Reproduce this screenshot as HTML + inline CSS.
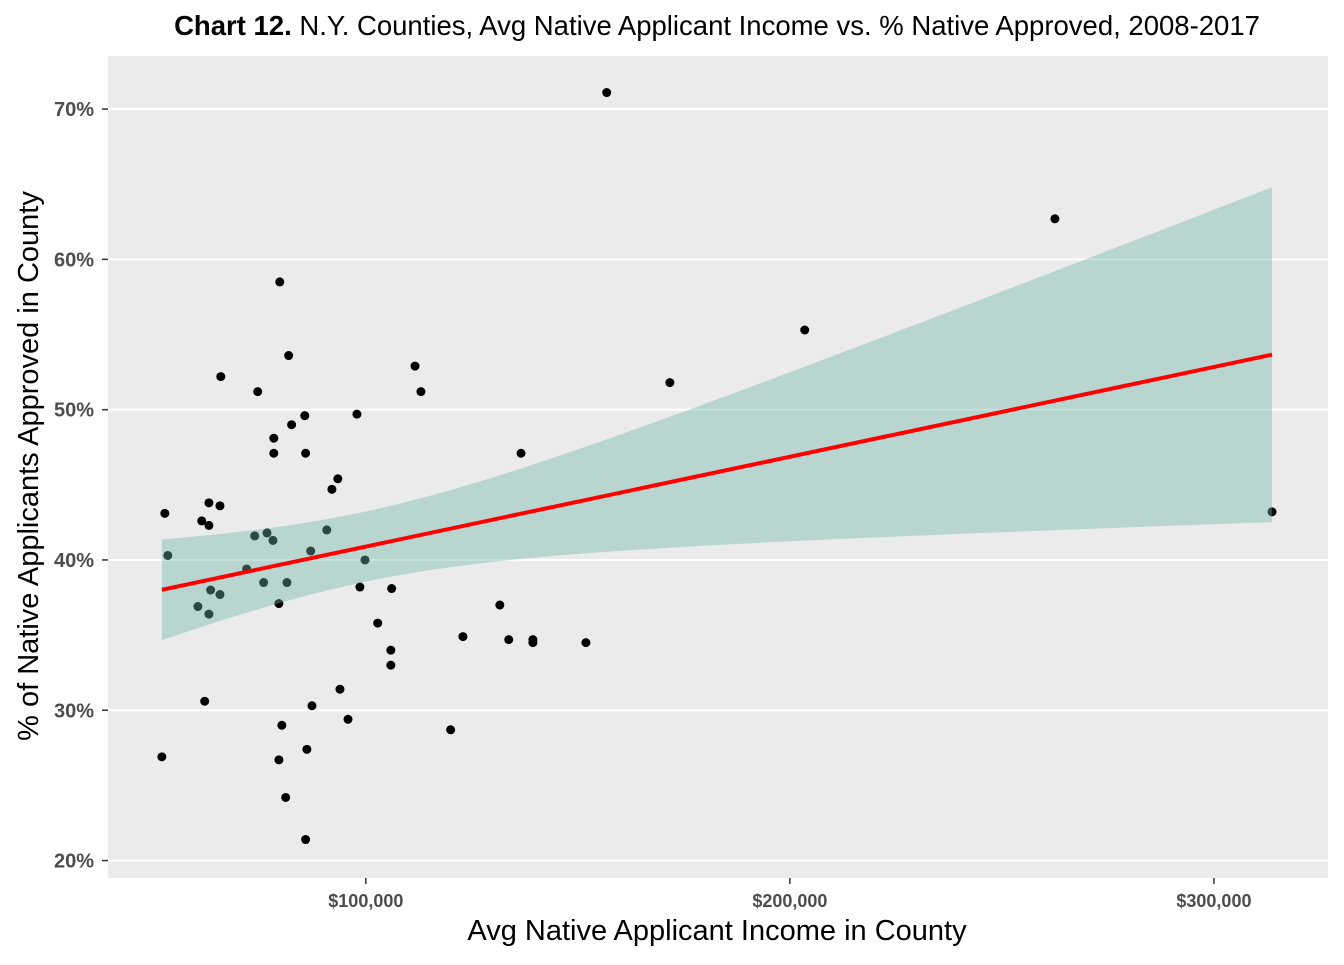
<!DOCTYPE html>
<html><head><meta charset="utf-8"><style>
body{margin:0;background:#fff;font-family:"Liberation Sans",Arial,sans-serif}
</style></head><body>
<svg id="chart" width="1344" height="960" xmlns="http://www.w3.org/2000/svg" font-family="Liberation Sans, Arial, sans-serif">
<rect width="1344" height="960" fill="#fff"/>
<text x="717" y="35" text-anchor="middle" font-size="27.5" fill="#000"><tspan font-weight="bold">Chart 12.</tspan> N.Y. Counties, Avg Native Applicant Income vs. % Native Approved, 2008-2017</text>
<rect x="108" y="56" width="1220" height="822" fill="#ebebeb"/>
<g id="grid"></g><g id="points"></g><g id="ribbon"></g><g id="fit"></g><g id="axes"></g>
<text x="717" y="940" text-anchor="middle" font-size="29" fill="#000">Avg Native Applicant Income in County</text>
<text transform="translate(38,466) rotate(-90)" text-anchor="middle" font-size="29" fill="#000">% of Native Applicants Approved in County</text>
</svg>
<script>
const incomeK=[52.6,53.3,51.9,156.8,262.5,203.5,171.7,313.7,65.8,74.5,79.7,81.8,78.3,82.5,85.6,97.9,78.3,85.8,111.6,113.0,136.6,93.4,92.0,90.8,87.0,73.8,76.7,78.1,61.3,63.0,63.0,65.6,71.9,75.9,81.4,79.5,63.4,65.6,60.4,63.0,99.8,98.6,106.1,102.8,105.9,105.9,93.9,87.3,95.8,62.0,80.2,122.9,133.7,139.4,139.4,151.9,131.6,120.0,79.5,86.1,81.1,85.8];
const approvedPct=[43.1,40.3,26.9,71.1,62.7,55.3,51.8,43.2,52.2,51.2,58.5,53.6,48.1,49.0,49.6,49.7,47.1,47.1,52.9,51.2,47.1,45.4,44.7,42.0,40.6,41.6,41.8,41.3,42.6,43.8,42.3,43.6,39.4,38.5,38.5,37.1,38.0,37.7,36.9,36.4,40.0,38.2,38.1,35.8,34.0,33.0,31.4,30.3,29.4,30.6,29.0,34.9,34.7,34.7,34.5,34.5,37.0,28.7,26.7,27.4,24.2,21.4];
const xTicks=[100,200,300];
const xTickLabels=["$100,000","$200,000","$300,000"];
const yTicks=[20,30,40,50,60,70];
const yTickLabels=["20%","30%","40%","50%","60%","70%"];

const NS="http://www.w3.org/2000/svg";
const X=v=>108+(v-39.2)/(326.9-39.2)*1220;
const Y=v=>878-(v-18.84)/(73.53-18.84)*822;
function mk(tag,parent,attrs){const e=document.createElementNS(NS,tag);for(const k in attrs)e.setAttribute(k,attrs[k]);document.getElementById(parent).appendChild(e);return e;}

yTicks.forEach((t,i)=>{
  const g=mk('line','grid',{x1:108,x2:1328,y1:Y(t),y2:Y(t),stroke:'#fff','stroke-width':2});
  
  
  const tk=mk('line','axes',{x1:102,x2:108,y1:Y(t),y2:Y(t),stroke:'#333','stroke-width':1.5});
  
  
  const l=mk('text','axes',{x:94,y:Y(t)+7,'text-anchor':'end','font-size':20,'font-weight':'bold',fill:'#4d4d4d'});
  l.textContent=yTickLabels[i];
  
  
});
xTicks.forEach((t,i)=>{
  const tk=mk('line','axes',{x1:X(t),x2:X(t),y1:878,y2:884,stroke:'#333','stroke-width':1.5});
  
  
  const l=mk('text','axes',{x:X(t),y:907,'text-anchor':'middle','font-size':18,'font-weight':'bold',fill:'#4d4d4d'});
  l.textContent=xTickLabels[i];
  
  
});

// linear fit + 95% CI
const n=incomeK.length;
const mx=incomeK.reduce((a,b)=>a+b)/n, my=approvedPct.reduce((a,b)=>a+b)/n;
let sxx=0,sxy=0;for(let i=0;i<n;i++){sxx+=(incomeK[i]-mx)**2;sxy+=(incomeK[i]-mx)*(approvedPct[i]-my);}
const b=sxy/sxx,a=my-b*mx;
let sse=0;for(let i=0;i<n;i++)sse+=(approvedPct[i]-a-b*incomeK[i])**2;
const s=Math.sqrt(sse/(n-2)),tq=2.0;
const xmin=Math.min(...incomeK),xmax=Math.max(...incomeK);
let up=[],lo=[];
for(let k=0;k<=80;k++){const x=xmin+(xmax-xmin)*k/80;const yh=a+b*x;const se=s*Math.sqrt(1/n+(x-mx)**2/sxx);
  up.push(X(x)+','+Y(yh+tq*se));lo.unshift(X(x)+','+Y(yh-tq*se));}

incomeK.forEach((x,i)=>{
  const c=mk('circle','points',{cx:X(x),cy:Y(approvedPct[i]),r:4.5,fill:'#000'});
  
  
});
const rb=mk('polygon','ribbon',{points:up.concat(lo).join(' '),fill:'#6bb4a5','fill-opacity':0.4});


const ln=mk('line','fit',{x1:X(xmin),y1:Y(a+b*xmin),x2:X(xmax),y2:Y(a+b*xmax),stroke:'#ff0000','stroke-width':4});


</script>
</body></html>
